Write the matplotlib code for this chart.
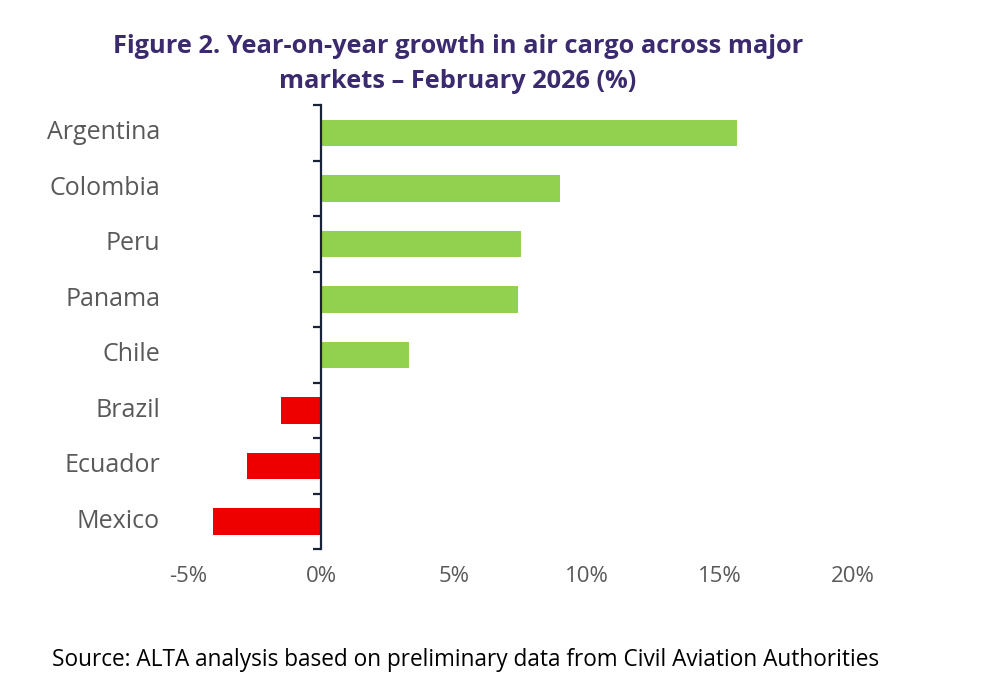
import matplotlib.pyplot as plt
import matplotlib.transforms as mtransforms
import numpy as np

countries = ["Argentina", "Colombia", "Peru", "Panama", "Chile", "Brazil", "Ecuador", "Mexico"]
growth = [15.65, 9.0, 7.5, 7.4, 3.3, -1.5, -2.8, -4.05]
xticks = [-5, 0, 5, 10, 15, 20]
xlabels = ["-5%", "0%", "5%", "10%", "15%", "20%"]

plt.rcParams['font.family'] = ['Open Sans', 'DejaVu Sans']

fig = plt.figure(figsize=(10, 6.88), dpi=100)
ax = fig.add_axes([0.188, 0.202, 0.665, 0.645])

y = np.arange(len(countries))
colors = ['#92D050' if v >= 0 else '#EE0000' for v in growth]
ax.barh(y, growth, height=0.48, color=colors)

ax.set_xlim(-5, 20)
ax.set_ylim(len(countries) - 0.5, -0.5)

for s in ['top', 'right', 'bottom']:
    ax.spines[s].set_visible(False)
ax.spines['left'].set_position(('data', 0))
ax.spines['left'].set_color('#1a2238')
ax.spines['left'].set_linewidth(1.6)

# boundary ticks on the spine
ax.set_yticks(np.arange(-0.5, len(countries), 1.0))
ax.set_yticklabels([])
ax.tick_params(axis='y', direction='out', length=6, width=1.6, color='#1a2238')

# category labels at the left
trans = mtransforms.blended_transform_factory(ax.transAxes, ax.transData)
for yi, name in zip(y, countries):
    ax.text(-0.042, yi, name, transform=trans, ha='right', va='center',
            fontsize=18, color='#595959')

ax.set_xticks(xticks)
ax.set_xticklabels(xlabels, fontsize=16, color='#595959')
ax.tick_params(axis='x', length=0, pad=12)

fig.text(0.458, 0.933, "Figure 2. Year-on-year growth in air cargo across major",
         ha='center', va='center', fontsize=18.3, fontweight='bold', color='#3b2a6e')
fig.text(0.458, 0.882, "markets \u2013 February 2026 (%)",
         ha='center', va='center', fontsize=18.3, fontweight='bold', color='#3b2a6e')

fig.text(0.052, 0.04, "Source: ALTA analysis based on preliminary data from Civil Aviation Authorities",
         ha='left', va='center', fontsize=16.3, color='#000000')

fig.savefig("out.png", dpi=100)
